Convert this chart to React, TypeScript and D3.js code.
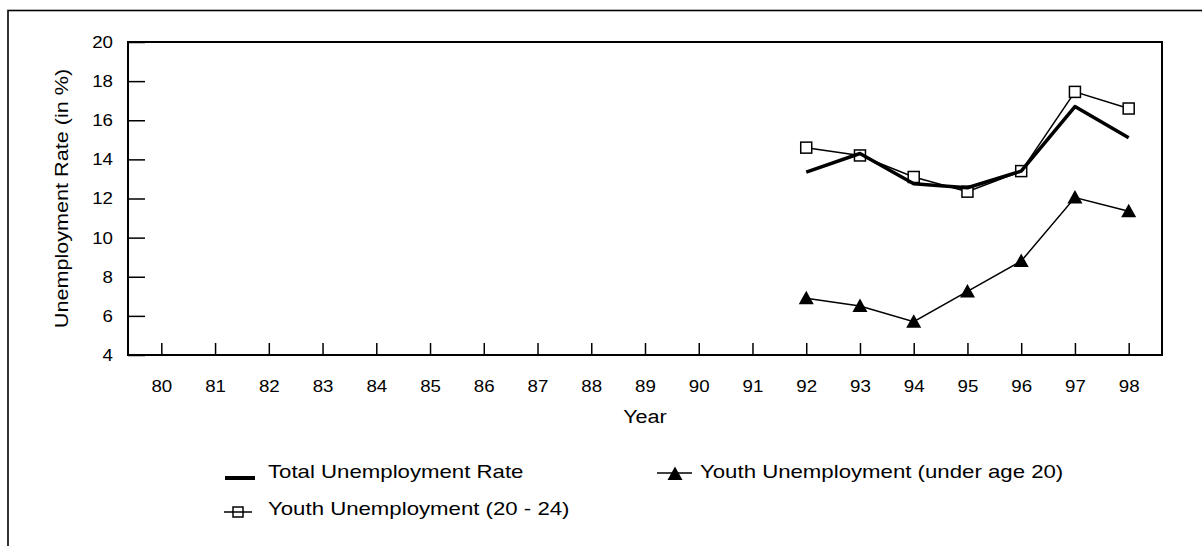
import React, { useEffect, useRef } from "react";
import * as d3 from "d3";

const years = ["80", "81", "82", "83", "84", "85", "86", "87", "88", "89", "90", "91", "92", "93", "94", "95", "96", "97", "98"];
const totalRate: (number | null)[] = [null, null, null, null, null, null, null, null, null, null, null, null, 13.35, 14.3, 12.75, 12.55, 13.4, 16.7, 15.1];
const youthUnder20: (number | null)[] = [null, null, null, null, null, null, null, null, null, null, null, null, 6.9, 6.5, 5.7, 7.25, 8.8, 12.05, 11.35];
const youth20to24: (number | null)[] = [null, null, null, null, null, null, null, null, null, null, null, null, 14.6, 14.2, 13.1, 12.35, 13.4, 17.45, 16.6];
const yTicks = [4, 6, 8, 10, 12, 14, 16, 18, 20];
const seriesNames = ["Total Unemployment Rate", "Youth Unemployment (under age 20)", "Youth Unemployment (20 - 24)"];
const xTitle = "Year";
const yTitle = "Unemployment Rate (in %)";

const FONT = "'Liberation Sans', Arial, Helvetica, sans-serif";

export default function App() {
  const ref = useRef<SVGSVGElement>(null);

  useEffect(() => {
    const svg = d3.select(ref.current);
    svg.selectAll("*").remove();

    const L = 128, R = 1162, T = 42, B = 355;
    const x = d3.scalePoint<string>().domain(years).range([L, R]).padding(0.62);
    const y = d3.scaleLinear().domain([4, 20]).range([B, T]);

    svg.append("rect").attr("x", 0).attr("y", 0).attr("width", 1202).attr("height", 546).attr("fill", "#fff");
    // outer border
    svg.append("rect").attr("x", 8).attr("y", 10.5).attr("width", 1400).attr("height", 700)
      .attr("fill", "none").attr("stroke", "#000").attr("stroke-width", 1.6);

    // y axis
    const ya = svg.append("g").attr("transform", `translate(${L},0)`)
      .call(d3.axisLeft(y).tickValues(yTicks).tickSize(-17).tickSizeOuter(0).tickPadding(15));
    ya.select(".domain").remove();
    ya.selectAll("line").attr("stroke", "#000").attr("stroke-width", 1.5);
    ya.selectAll("text").attr("font-family", FONT).attr("font-size", 17).attr("fill", "#000").classed("s1", true);

    // x axis
    const xa = svg.append("g").attr("transform", `translate(0,${B})`)
      .call(d3.axisBottom(x).tickSize(-12).tickSizeOuter(0).tickPadding(25));
    xa.select(".domain").remove();
    xa.selectAll("line").attr("stroke", "#000").attr("stroke-width", 1.5);
    xa.selectAll("text").attr("font-family", FONT).attr("font-size", 17).attr("fill", "#000").classed("s1", true);

    // frame
    svg.append("rect").attr("x", L).attr("y", T).attr("width", R - L).attr("height", B - T)
      .attr("fill", "none").attr("stroke", "#000").attr("stroke-width", 2);

    // titles
    svg.append("text").attr("x", (L + R) / 2).attr("y", 423).attr("text-anchor", "middle")
      .attr("font-family", FONT).attr("font-size", 18).text(xTitle).classed("s2", true);
    svg.append("text").attr("transform", `translate(68,${(T + B) / 2}) rotate(-90)`).attr("text-anchor", "middle")
      .attr("font-family", FONT).attr("font-size", 18).text(yTitle).classed("s2", true);

    const line = d3.line<number | null>()
      .defined((d) => d != null)
      .x((_, i) => x(years[i]) as number)
      .y((d) => y(d as number));

    const tri = "M0,-7.5L7.5,6L-7.5,6Z";

    // youth under 20
    svg.append("path").attr("d", line(youthUnder20)).attr("fill", "none").attr("stroke", "#000").attr("stroke-width", 1.5);
    svg.append("g").selectAll("path").data(youthUnder20.map((v, i) => ({ v, yr: years[i] })).filter((d) => d.v != null))
      .join("path").attr("d", tri)
      .attr("transform", (d) => `translate(${x(d.yr)},${y(d.v as number)})`).attr("fill", "#000");

    // youth 20-24
    svg.append("path").attr("d", line(youth20to24)).attr("fill", "none").attr("stroke", "#000").attr("stroke-width", 1.5);
    svg.append("g").selectAll("rect").data(youth20to24.map((v, i) => ({ v, yr: years[i] })).filter((d) => d.v != null))
      .join("rect")
      .attr("x", (d) => (x(d.yr) as number) - 5.5).attr("y", (d) => y(d.v as number) - 5.5)
      .attr("width", 11).attr("height", 11).attr("fill", "#fff").attr("stroke", "#000").attr("stroke-width", 1.5);

    // total
    svg.append("path").attr("d", line(totalRate)).attr("fill", "none").attr("stroke", "#000").attr("stroke-width", 3.5)
      .attr("stroke-linejoin", "round");

    // legend
    const lg = svg.append("g");
    lg.append("line").attr("x1", 225).attr("x2", 255).attr("y1", 478).attr("y2", 478).attr("stroke", "#000").attr("stroke-width", 4);
    lg.append("text").attr("x", 268).attr("y", 478).text(seriesNames[0]);

    lg.append("line").attr("x1", 657).attr("x2", 692).attr("y1", 473).attr("y2", 473).attr("stroke", "#000").attr("stroke-width", 1.5);
    lg.append("path").attr("d", tri).attr("transform", "translate(675,474)").attr("fill", "#000");
    lg.append("text").attr("x", 700).attr("y", 478).text(seriesNames[1]);

    lg.append("line").attr("x1", 224).attr("x2", 252).attr("y1", 512).attr("y2", 512).attr("stroke", "#000").attr("stroke-width", 1.5);
    lg.append("rect").attr("x", 233).attr("y", 507).attr("width", 10).attr("height", 10).attr("fill", "none").attr("stroke", "#000").attr("stroke-width", 1.5);
    lg.append("text").attr("x", 268).attr("y", 515).text(seriesNames[2]);
    lg.selectAll("text").attr("font-family", FONT).attr("font-size", 18.5).attr("fill", "#000").classed("s2", true);

    // widen glyphs to match reference
    svg.selectAll<SVGTextElement, unknown>("text").each(function () {
      const el = this as SVGTextElement;
      const k = el.classList.contains("s2") ? 1.2 : 1.1;
      const len = el.getComputedTextLength();
      if (len > 0) {
        el.setAttribute("textLength", String(len * k));
        el.setAttribute("lengthAdjust", "spacingAndGlyphs");
      }
    });
  }, []);

  return (
    <svg ref={ref} width={1202} height={546} style={{ position: "absolute", left: 0, top: 0, display: "block" }} />
  );
}
